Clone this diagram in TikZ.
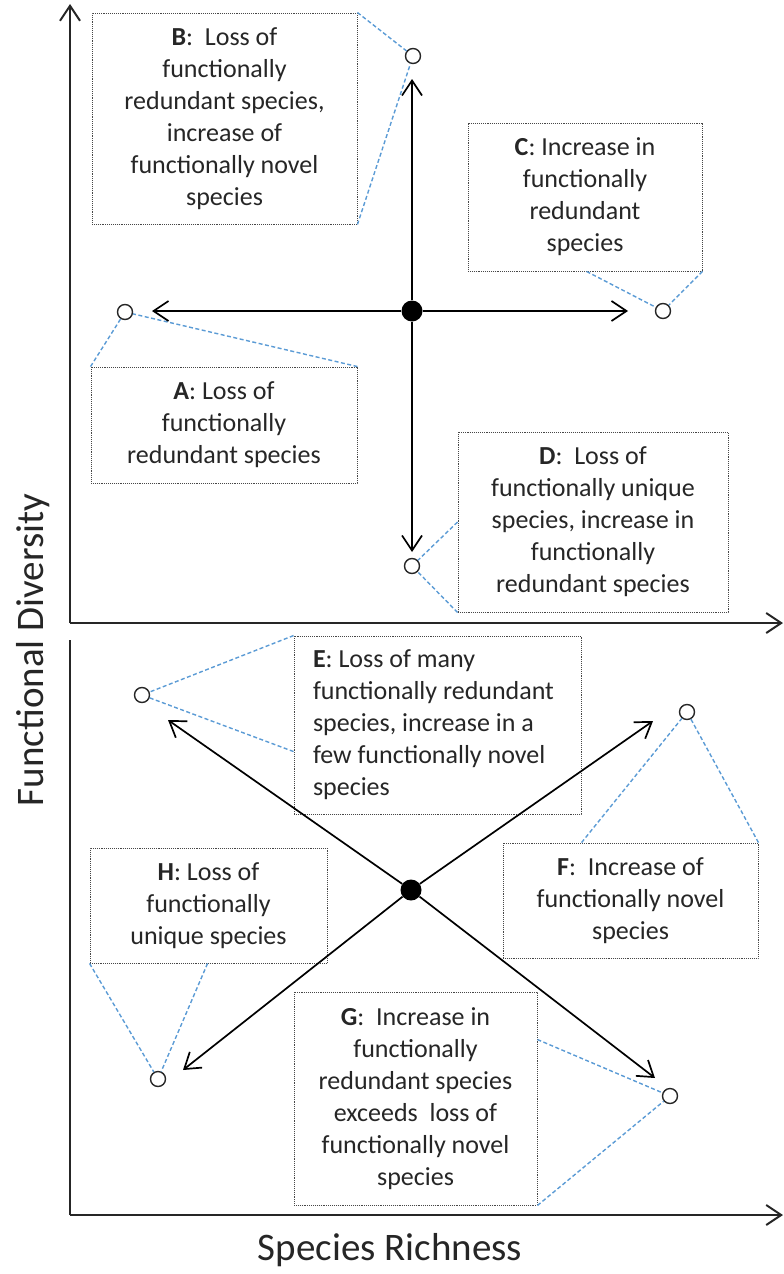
\documentclass[tikz,border=0pt]{standalone}
\usepackage{fontspec}
\setmainfont{Carlito}
\usetikzlibrary{arrows.meta}
\definecolor{leaderblue}{HTML}{5B9BD5}
\definecolor{ink}{HTML}{262626}
\begin{document}
\begin{tikzpicture}[x=1pt,y=-1pt,
  note/.style={draw=ink!85, densely dotted, line width=0.9pt, inner sep=0pt,
    align=center, font=\fontsize{26}{32}\selectfont, text=ink},
  leader/.style={draw=leaderblue, dash pattern=on 4pt off 2.5pt, line width=1.4pt},
  endpt/.style={circle, draw=ink, line width=1.4pt, fill=white, minimum size=15pt, inner sep=0pt},
  hub/.style={circle, fill=black, minimum size=21pt, inner sep=0pt},
  move/.style={draw=black, line width=1.7pt,
    -{Straight Barb[length=15pt,width=20pt,line width=1.7pt]}},
  axis/.style={draw=ink, line width=2pt},
  axistip/.style={-{Straight Barb[length=15pt,width=20pt,line width=2pt]}},
  axislabel/.style={font=\fontsize{39}{46}\selectfont, text=ink}]

\useasboundingbox (0,0) rectangle (784,1274);

% ---------- axes ----------
\coordinate (o1) at (70,623);
\coordinate (yTop) at (70,4);
\coordinate (x1End) at (783,623);
\coordinate (o2) at (70,1215);
\coordinate (y2Top) at (70,640);
\coordinate (x2End) at (783,1215);
\draw[axis, axistip] (o1) -- (yTop);
\draw[axis, axistip] (o1) -- (x1End);
\draw[axis] (o2) -- (y2Top);
\draw[axis, axistip] (o2) -- (x2End);

\node[axislabel, rotate=90] (ylab) at (33,650) {Functional Diversity};
\node[axislabel] (xlab) at (390,1250) {Species Richness};

% ---------- upper panel ----------
\node[note, minimum width=265pt, minimum height=211pt] (boxB) at (224.5,118.5)
  {\textbf{B}:\ \ Loss of\\functionally\\redundant species,\\increase of\\functionally novel\\species};
\node[note, minimum width=234pt, minimum height=148pt] (boxC) at (585,197)
  {\textbf{C}: Increase in\\functionally\\redundant\\species};
\node[note, minimum width=266pt, minimum height=116pt] (boxA) at (224,425)
  {\textbf{A}: Loss of\\functionally\\redundant species};
\node[note, minimum width=270pt, minimum height=180pt] (boxD) at (593,522)
  {\textbf{D}:\ \ Loss of\\functionally unique\\species, increase in\\functionally\\redundant species};

\node[endpt] (cA) at (125,312) {};
\node[endpt] (cB) at (413,56) {};
\node[endpt] (cC) at (663,311) {};
\node[endpt] (cD) at (412,566) {};

\draw[leader] (boxA.north west) -- (cA);
\draw[leader] (boxA.north east) -- (cA);
\draw[leader] (boxB.north east) -- (cB);
\draw[leader] (boxB.south east) -- (cB);
\draw[leader] ([xshift=119pt]boxC.south west) -- (cC);
\draw[leader] (boxC.south east) -- (cC);
\draw[leader] (boxD.west) -- (cD);
\draw[leader] (boxD.south west) -- (cD);

\node[hub] (hubU) at (412,311) {};
\coordinate (tA) at (152,311);
\coordinate (tB) at (412,79);
\coordinate (tC) at (628,311);
\coordinate (tD) at (412,552);
\draw[move] (hubU) -- (tA);
\draw[move] (hubU) -- (tB);
\draw[move] (hubU) -- (tC);
\draw[move] (hubU) -- (tD);

% ---------- lower panel ----------
\node[note, text width=249pt, inner xsep=19pt, align=flush left, minimum height=178pt] (boxE) at (437.5,725)
  {\textbf{E}:\ Loss of many\\functionally redundant\\species, increase in a\\few functionally novel\\species};
\node[note, minimum width=255pt, minimum height=115pt] (boxF) at (630.5,900.5)
  {\textbf{F}:\ \ Increase of\\functionally novel\\species};
\node[note, minimum width=237pt, minimum height=115pt] (boxH) at (208.5,905.5)
  {\textbf{H}: Loss of\\functionally\\unique species};
\node[note, minimum width=243pt, minimum height=213pt] (boxG) at (415.5,1098.5)
  {\textbf{G}:\ \ Increase in\\functionally\\redundant species\\exceeds \ loss of\\functionally novel\\species};

\node[endpt] (cE) at (142,695) {};
\node[endpt] (cF) at (687,712) {};
\node[endpt] (cG) at (670,1096) {};
\node[endpt] (cH) at (158,1079) {};

\draw[leader] (boxE.north west) -- (cE);
\draw[leader] ([yshift=-116pt]boxE.north west) -- (cE);
\draw[leader] ([xshift=79pt]boxF.north west) -- (cF);
\draw[leader] (boxF.north east) -- (cF);
\draw[leader] ([yshift=-48pt]boxG.north east) -- (cG);
\draw[leader] (boxG.south east) -- (cG);
\draw[leader] (boxH.south west) -- (cH);
\draw[leader] ([xshift=118pt]boxH.south west) -- (cH);

\node[hub] (hubL) at (411,890) {};
\coordinate (tE) at (168,720);
\coordinate (tF) at (653,721);
\coordinate (tG) at (655,1078);
\coordinate (tH) at (183,1070);
\draw[move] (hubL) -- (tE);
\draw[move] (hubL) -- (tF);
\draw[move] (hubL) -- (tG);
\draw[move] (hubL) -- (tH);

\end{tikzpicture}
\end{document}
